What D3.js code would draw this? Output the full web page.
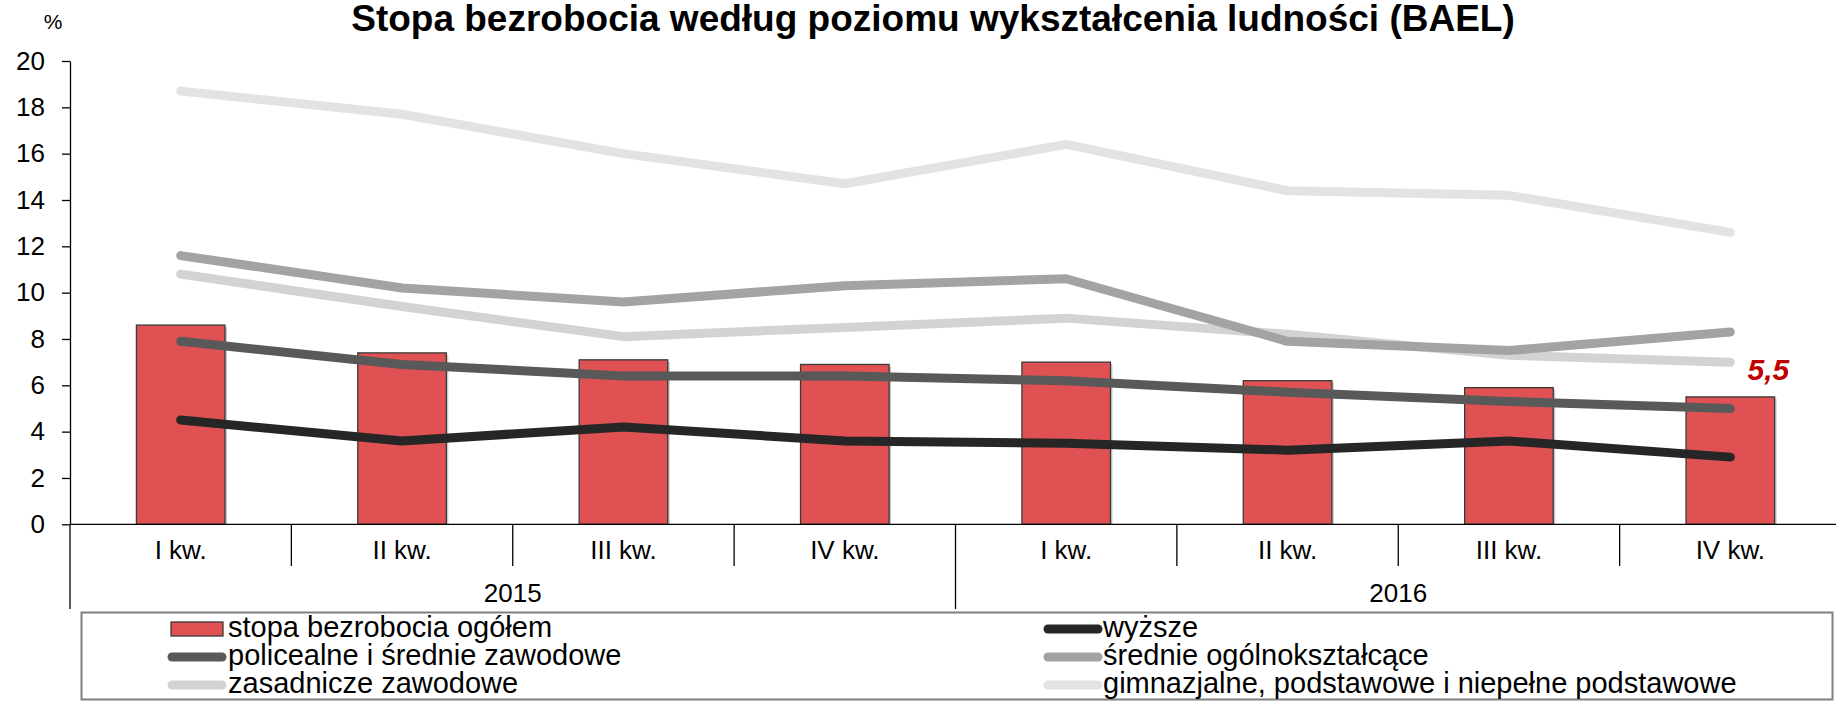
<!DOCTYPE html>
<html>
<head>
<meta charset="utf-8">
<script src="https://cdn.jsdelivr.net/npm/d3@7"></script>
<style>
  body { margin: 0; background: #fff; }
  text { font-family: "Liberation Sans", Arial, sans-serif; fill: #000; }
</style>
</head>
<body>
<div id="chart"></div>
<script>
// data
var quarters = ["I kw.", "II kw.", "III kw.", "IV kw.", "I kw.", "II kw.", "III kw.", "IV kw."];
var years = ["2015", "2016"];
var ogolem = [8.6, 7.4, 7.1, 6.9, 7.0, 6.2, 5.9, 5.5];
var wyzsze = [4.5, 3.6, 4.2, 3.6, 3.5, 3.2, 3.6, 2.9];
var policealne = [7.9, 6.9, 6.4, 6.4, 6.2, 5.7, 5.3, 5.0];
var srednieOgolne = [11.6, 10.2, 9.6, 10.3, 10.6, 7.9, 7.5, 8.3];
var zasadnicze = [10.8, 9.4, 8.1, 8.5, 8.9, 8.2, 7.3, 7.0];
var gimnazjalne = [18.7, 17.7, 16.0, 14.7, 16.4, 14.4, 14.2, 12.6];
var yTicks = [0, 2, 4, 6, 8, 10, 12, 14, 16, 18, 20];

var svgWidth = 1836;
var svgHeight = 702;

var svg = d3.select("#chart")
  .append("svg")
  .attr("width", svgWidth)
  .attr("height", svgHeight);

var plotLeft = 70, plotRight = 1841, plotTop = 61, plotBottom = 524.3;

var idx = d3.range(quarters.length);

// bars sit in 40% of each slot
var xScale = d3.scaleBand()
  .domain(idx)
  .range([plotLeft, plotRight])
  .paddingInner(0.6)
  .paddingOuter(0.3);
var step = xScale.step();
var xMid = i => xScale(i) + xScale.bandwidth() / 2;

var yScale = d3.scaleLinear()
  .domain([0, 20])
  .range([plotBottom, plotTop]);

// title
svg.append("text")
  .attr("x", 933)
  .attr("y", 31)
  .attr("text-anchor", "middle")
  .style("font-size", "37px")
  .style("font-weight", "bold")
  .text("Stopa bezrobocia według poziomu wykształcenia ludności (BAEL)");

svg.append("text")
  .attr("x", 53)
  .attr("y", 29)
  .attr("text-anchor", "middle")
  .style("font-size", "21px")
  .text("%");

// y axis
var yAxis = svg.append("g")
  .attr("transform", `translate(${plotLeft},0)`)
  .call(d3.axisLeft(yScale).tickValues(yTicks).tickSize(8).tickSizeOuter(0).tickPadding(17));
yAxis.select(".domain").attr("stroke", "#000").attr("stroke-width", 1.3);
yAxis.selectAll(".tick line").attr("stroke", "#000").attr("stroke-width", 1.3);
yAxis.selectAll("text")
  .style("font-size", "26px")
  .attr("font-family", null);

// bars
var bars = svg.append("g");
bars.selectAll("rect.shadow")
  .data(ogolem)
  .enter()
  .append("rect")
  .attr("class", "shadow")
  .attr("x", (d, i) => xScale(i) + 2)
  .attr("y", d => yScale(d) + 2)
  .attr("width", xScale.bandwidth())
  .attr("height", d => plotBottom - yScale(d) - 2)
  .attr("fill", "#c8c8c8");
bars.selectAll("rect.bar")
  .data(ogolem)
  .enter()
  .append("rect")
  .attr("class", "bar")
  .attr("x", (d, i) => xScale(i))
  .attr("y", d => yScale(d))
  .attr("width", xScale.bandwidth())
  .attr("height", d => plotBottom - yScale(d))
  .attr("fill", "#df5152")
  .attr("stroke", "#3a3a3a")
  .attr("stroke-width", 1.3);

// x axis with category separators
var axisG = svg.append("g");
axisG.append("line")
  .attr("x1", plotLeft).attr("x2", plotRight)
  .attr("y1", plotBottom).attr("y2", plotBottom)
  .attr("stroke", "#000").attr("stroke-width", 1.3);
axisG.selectAll("line.sep")
  .data(d3.range(quarters.length + 1))
  .enter()
  .append("line")
  .attr("class", "sep")
  .attr("x1", i => plotLeft + i * step)
  .attr("x2", i => plotLeft + i * step)
  .attr("y1", plotBottom)
  .attr("y2", i => (i % 4 === 0) ? 609 : 566)
  .attr("stroke", "#000").attr("stroke-width", 1.3);
axisG.selectAll("text.q")
  .data(quarters)
  .enter()
  .append("text")
  .attr("class", "q")
  .attr("x", (d, i) => xMid(i))
  .attr("y", 559)
  .attr("text-anchor", "middle")
  .style("font-size", "26px")
  .text(d => d);
axisG.selectAll("text.year")
  .data(years)
  .enter()
  .append("text")
  .attr("class", "year")
  .attr("x", (d, i) => plotLeft + (i * 4 + 2) * step)
  .attr("y", 602)
  .attr("text-anchor", "middle")
  .style("font-size", "26px")
  .text(d => d);

// lines, lightest first so the dark ones sit on top
var series = [
  { name: "wyższe", values: wyzsze, color: "#262626" },
  { name: "policealne i średnie zawodowe", values: policealne, color: "#595959" },
  { name: "średnie ogólnokształcące", values: srednieOgolne, color: "#a3a3a3" },
  { name: "zasadnicze zawodowe", values: zasadnicze, color: "#d3d3d3" },
  { name: "gimnazjalne, podstawowe i niepełne podstawowe", values: gimnazjalne, color: "#e3e3e3" }
];

var line = d3.line()
  .x((d, i) => xMid(i))
  .y(d => yScale(d));

svg.append("g").selectAll("path")
  .data(series.slice().reverse())
  .enter()
  .append("path")
  .attr("d", d => line(d.values))
  .attr("fill", "none")
  .attr("stroke", d => d.color)
  .attr("stroke-width", 9)
  .attr("stroke-linecap", "round")
  .attr("stroke-linejoin", "round");

// last value label
var last = ogolem.length - 1;
svg.append("text")
  .attr("x", xMid(last) + 38)
  .attr("y", yScale(ogolem[last]) - 17)
  .attr("text-anchor", "middle")
  .style("font-size", "30px")
  .style("font-weight", "bold")
  .style("font-style", "italic")
  .style("fill", "#c00000")
  .text(String(ogolem[last]).replace(".", ","));

// legend
var legend = svg.append("g");
legend.append("rect")
  .attr("x", 81.5).attr("y", 612.5)
  .attr("width", 1751).attr("height", 87)
  .attr("fill", "none")
  .attr("stroke", "#7f7f7f")
  .attr("stroke-width", 2);

var legendItems = [
  { name: "stopa bezrobocia ogółem", type: "bar", color: "#df5152" },
  series[0], series[1], series[2], series[3], series[4]
];
var swatchX = [[171, 223], [1047, 1099]];
var textX = [228, 1103];
var rowY = [629, 657, 685];
legendItems.forEach(function(item, k) {
  var col = k % 2, row = Math.floor(k / 2);
  var sx = swatchX[col], cy = rowY[row];
  if (item.type === "bar") {
    legend.append("rect")
      .attr("x", sx[0]).attr("y", cy - 7)
      .attr("width", sx[1] - sx[0]).attr("height", 14)
      .attr("fill", item.color)
      .attr("stroke", "#3a3a3a").attr("stroke-width", 1.3);
  } else {
    legend.append("line")
      .attr("x1", sx[0] + 1).attr("x2", sx[1] - 1)
      .attr("y1", cy).attr("y2", cy)
      .attr("stroke", item.color)
      .attr("stroke-width", 9)
      .attr("stroke-linecap", "round");
  }
  legend.append("text")
    .attr("x", textX[col])
    .attr("y", cy + 8)
    .style("font-size", "29px")
    .text(item.name);
});
</script>
</body>
</html>
